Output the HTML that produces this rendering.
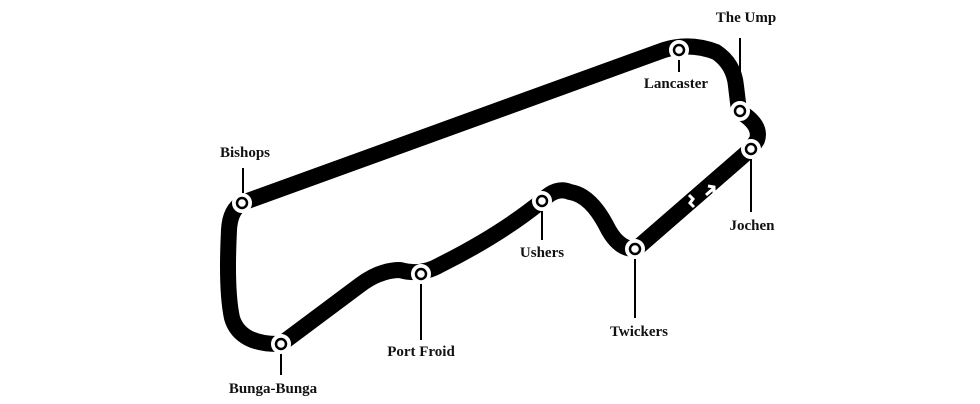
<!DOCTYPE html>
<html><head><style>
html,body{margin:0;padding:0;background:#fff;}
svg{display:block;}
text{font-family:"Liberation Serif",serif;font-weight:bold;font-size:15px;fill:#111;}
</style></head><body>
<svg width="980" height="404" viewBox="0 0 980 404">
<path d="M242,203 L664,50 Q690,42 716,52 Q734,64 736,86 L739,111 Q762,125 757,140 L751,149 L636,249 Q618,250 606,225 Q590,195 570,192 Q556,186 542,201 Q500,235 440,265 Q421,276 400,270 Q380,270 360,285 L281,344 Q240,345 232,318 Q226,290 229,230 Q230,210 242,203 Z" fill="none" stroke="#000" stroke-width="16" stroke-linejoin="round"/>
<path d="M689,195 l4,4 -3,4 4,4" fill="none" stroke="#fff" stroke-width="3"/>
<path d="M706,195 l8,-7 M708,186 l6,1 0,6" fill="none" stroke="#fff" stroke-width="3"/>
<g stroke="#000" stroke-width="2">
<line x1="243" y1="168" x2="243" y2="196"/>
<line x1="740" y1="38" x2="740" y2="104"/>
<line x1="679" y1="55" x2="679" y2="72"/>
<line x1="751" y1="156" x2="751" y2="212"/>
<line x1="542" y1="208" x2="542" y2="240"/>
<line x1="635" y1="256" x2="635" y2="318"/>
<line x1="421" y1="281" x2="421" y2="340"/>
<line x1="281" y1="351" x2="281" y2="375"/>
</g>
<g fill="#fff" stroke="#000" stroke-width="2.5">
<circle cx="242" cy="203" r="8.5" stroke="#fff" stroke-width="3"/><circle cx="242" cy="203" r="5"/>
<circle cx="679" cy="50" r="8.5" stroke="#fff" stroke-width="3"/><circle cx="679" cy="50" r="5"/>
<circle cx="740" cy="111" r="8.5" stroke="#fff" stroke-width="3"/><circle cx="740" cy="111" r="5"/>
<circle cx="751" cy="149" r="8.5" stroke="#fff" stroke-width="3"/><circle cx="751" cy="149" r="5"/>
<circle cx="542" cy="201" r="8.5" stroke="#fff" stroke-width="3"/><circle cx="542" cy="201" r="5"/>
<circle cx="635" cy="249" r="8.5" stroke="#fff" stroke-width="3"/><circle cx="635" cy="249" r="5"/>
<circle cx="421" cy="274" r="8.5" stroke="#fff" stroke-width="3"/><circle cx="421" cy="274" r="5"/>
<circle cx="281" cy="344" r="8.5" stroke="#fff" stroke-width="3"/><circle cx="281" cy="344" r="5"/>
</g>
<g text-anchor="middle">
<text x="245" y="157">Bishops</text>
<text x="746" y="22">The Ump</text>
<text x="676" y="88">Lancaster</text>
<text x="752" y="230">Jochen</text>
<text x="542" y="257">Ushers</text>
<text x="639" y="336">Twickers</text>
<text x="421" y="356">Port Froid</text>
<text x="273" y="393">Bunga-Bunga</text>
</g>
</svg>
</body></html>
